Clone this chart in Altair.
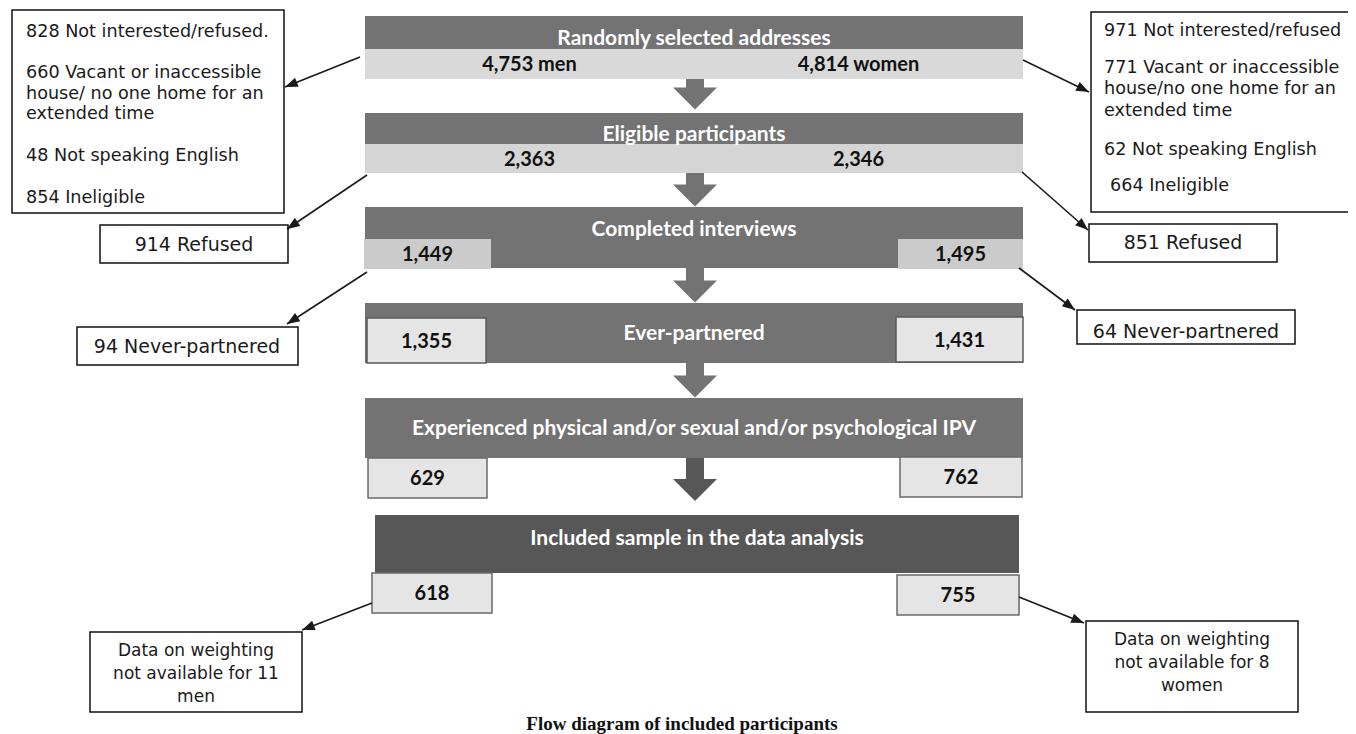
import altair as alt
import pandas as pd

# ---------------- content ----------------
stage_titles = ["Randomly selected addresses", "Eligible participants", "Completed interviews",
                "Ever-partnered", "Experienced physical and/or sexual and/or psychological IPV",
                "Included sample in the data analysis"]
men_counts = ["4,753 men", "2,363", "1,449", "1,355", "629", "618"]
women_counts = ["4,814 women", "2,346", "1,495", "1,431", "762", "755"]

men_excluded_address = ["828 Not interested/refused.", "660 Vacant or inaccessible",
                        "house/ no one home for an", "extended time",
                        "48 Not speaking English", "854 Ineligible"]
women_excluded_address = ["971 Not interested/refused", "771 Vacant or inaccessible",
                          "house/no one home for an", "extended time",
                          "62 Not speaking English", "664 Ineligible"]
side_labels = ["914 Refused", "851 Refused", "94 Never-partnered", "64 Never-partnered"]
men_weighting = ["Data on weighting", "not available for 11", "men"]
women_weighting = ["Data on weighting", "not available for 8", "women"]
caption = "Flow diagram of included participants"

# ---------------- layout (pixel grid of the picture) ----------------
W, H = 1340, 726
xs = alt.Scale(domain=[8, 8 + W], nice=False, zero=False)
ys = alt.Scale(domain=[8, 8 + H], nice=False, zero=False, reverse=True)

stage_box = [(365, 1023, 16, 49), (365, 1023, 113, 144), (365, 1023, 207, 268),
             (365, 1023, 303, 363), (365, 1023, 398, 458), (375, 1019, 515, 573)]
stage_fill = ["#737373"] * 5 + ["#575757"]
title_y = [39, 135, 230, 334, 429, 539]

men_box = [(365, 694, 49, 79), (365, 694, 144, 173), (364, 491, 239, 269),
           (367, 486, 318, 363), (368, 487, 458, 498), (372, 492, 573, 613)]
women_box = [(694, 1023, 49, 79), (694, 1023, 144, 173), (898, 1023, 239, 269),
             (896, 1023, 317, 362), (900, 1022, 457, 497), (897, 1019, 575, 615)]
count_fill = ["#d9d9d9", "#d5d5d5", "#cbcbcb", "#e5e5e5", "#e5e5e5", "#e5e5e5"]
count_stroke = ["#d9d9d9", "#d5d5d5", "#cbcbcb", "#5a5a5a", "#6a6a6a", "#6a6a6a"]
count_sw = [0, 0, 0, 1.5, 1.5, 1.5]

shaft_y = [(79, 89), (173, 185), (268, 282), (363, 377), (458, 480)]
head_y = [98.5, 195.5, 291.5, 386.5, 490]
arrow_fill = ["#737373"] * 4 + ["#575757"]

side_box = [(12, 284, 10, 213), (1091, 1353, 12, 212), (100, 288, 225, 263), (1089, 1277, 224, 262),
            (77, 298, 327, 365), (1077, 1295, 310, 344), (90, 302, 632, 712), (1086, 1298, 621, 712)]

left_lines_y = [32, 73, 94, 114, 156, 198]
right_lines_y = [31, 68, 89, 111, 150, 186]
right_lines_x = [1104, 1104, 1104, 1104, 1104, 1110]
side_label_xy = [(194, 245), (1183, 243), (187, 347), (1186, 332)]
weight_left_y = [651, 674, 697]
weight_right_y = [640, 663, 686]

links = [(360, 57, 285, 87), (367, 175, 287, 229), (367, 272, 287, 324),
         (1023, 60, 1089, 92), (1022, 172, 1088, 230), (1019, 268, 1075, 310),
         (372, 603, 302, 630), (1019, 597, 1084, 623)]

# ---------------- tables ----------------
boxes = pd.DataFrame(
    [dict(x1=b[0], x2=b[1], y1=b[2], y2=b[3], fill=f, stroke=f, sw=0) for b, f in zip(stage_box, stage_fill)]
    + [dict(x1=b[0], x2=b[1], y1=b[2], y2=b[3], fill=f, stroke=s, sw=w)
       for b, f, s, w in zip(men_box, count_fill, count_stroke, count_sw)]
    + [dict(x1=b[0], x2=b[1], y1=b[2], y2=b[3], fill=f, stroke=s, sw=w)
       for b, f, s, w in zip(women_box, count_fill, count_stroke, count_sw)]
    + [dict(x1=686, x2=704, y1=s[0], y2=s[1], fill=c, stroke=c, sw=0) for s, c in zip(shaft_y, arrow_fill)]
)

heads = pd.DataFrame(dict(x=[695] * 5, y=head_y, fill=arrow_fill))

frames = pd.DataFrame([dict(x1=b[0], x2=b[1], y1=b[2], y2=b[3]) for b in side_box])
clip = pd.DataFrame([dict(x1=1079, x2=1293, y1=338.6, y2=343.0)])

titles = pd.DataFrame(dict(x=[694] * 5 + [697], y=title_y, text=stage_titles))
counts = pd.DataFrame(
    [dict(x=(b[0] + b[1]) / 2, y=(b[2] + b[3]) / 2 + 1, text=t) for b, t in zip(men_box, men_counts)]
    + [dict(x=(b[0] + b[1]) / 2, y=(b[2] + b[3]) / 2 + 1, text=t) for b, t in zip(women_box, women_counts)]
)
left_text = pd.DataFrame(
    [dict(x=26, y=y, text=t) for y, t in zip(left_lines_y, men_excluded_address)]
    + [dict(x=x, y=y, text=t) for x, y, t in zip(right_lines_x, right_lines_y, women_excluded_address)]
)
center_text = pd.DataFrame(
    [dict(x=p[0], y=p[1], text=t, fs=19) for p, t in zip(side_label_xy, side_labels)]
    + [dict(x=196, y=y, text=t, fs=17) for y, t in zip(weight_left_y, men_weighting)]
    + [dict(x=1192, y=y, text=t, fs=17) for y, t in zip(weight_right_y, women_weighting)]
)
link_df = pd.DataFrame([dict(x1=a, y1=b, x2=c, y2=d) for a, b, c, d in links])
cap_df = pd.DataFrame(dict(x=[682], y=[724], text=[caption]))


def X(f):
    return alt.X(f, scale=xs, axis=None)


def Y(f):
    return alt.Y(f, scale=ys, axis=None)


frame_layer = alt.Chart(frames).mark_rect(fill="white", stroke="#111111", strokeWidth=1.5).encode(
    x=X("x1:Q"), x2="x2:Q", y=Y("y1:Q"), y2="y2:Q")

box_layer = alt.Chart(boxes).mark_rect().encode(
    x=X("x1:Q"), x2="x2:Q", y=Y("y1:Q"), y2="y2:Q",
    fill=alt.Fill("fill:N", scale=None), stroke=alt.Stroke("stroke:N", scale=None),
    strokeWidth=alt.StrokeWidth("sw:Q", scale=None))

head_layer = alt.Chart(heads).mark_point(
    shape="M-1,-0.5L1,-0.5L0,0.5Z", filled=True, size=1936, opacity=1, strokeWidth=0).encode(
    x=X("x:Q"), y=Y("y:Q"), fill=alt.Fill("fill:N", scale=None))

rule_layer = alt.Chart(link_df).mark_rule(color="#1a1a1a", strokeWidth=1.6).encode(
    x=X("x1:Q"), y=Y("y1:Q"), x2="x2:Q", y2="y2:Q")

tip_layer = alt.Chart(link_df).transform_calculate(
    ang="(atan2(datum.x2 - datum.x1, datum.y1 - datum.y2) * 180 / PI + 360) % 360"
).mark_point(shape="M0,0L-0.65,1.7L0.65,1.7Z", filled=True, size=225, opacity=1,
             strokeWidth=0, color="#1a1a1a").encode(
    x=X("x2:Q"), y=Y("y2:Q"), angle=alt.Angle("ang:Q", scale=None))

title_layer = alt.Chart(titles).mark_text(
    font="Lato", fontWeight="bold", fontSize=21, color="white", baseline="middle", align="center").encode(
    x=X("x:Q"), y=Y("y:Q"), text="text:N")

count_layer = alt.Chart(counts).mark_text(
    font="Lato", fontWeight="bold", fontSize=20, color="#111111", baseline="middle", align="center").encode(
    x=X("x:Q"), y=Y("y:Q"), text="text:N")

left_layer = alt.Chart(left_text).mark_text(
    font="DejaVu Sans", fontSize=17.6, color="#1a1a1a", baseline="middle", align="left").encode(
    x=X("x:Q"), y=Y("y:Q"), text="text:N")

center_layer = alt.Chart(center_text).mark_text(
    font="DejaVu Sans", color="#1a1a1a", baseline="middle", align="center").encode(
    x=X("x:Q"), y=Y("y:Q"), text="text:N", size=alt.Size("fs:Q", scale=None))

clip_layer = alt.Chart(clip).mark_rect(fill="white").encode(
    x=X("x1:Q"), x2="x2:Q", y=Y("y1:Q"), y2="y2:Q")

cap_layer = alt.Chart(cap_df).mark_text(
    font="Liberation Serif", fontWeight="bold", fontSize=19, color="#111111",
    baseline="middle", align="center").encode(
    x=X("x:Q"), y=Y("y:Q"), text="text:N")

chart = alt.layer(
    frame_layer, box_layer, head_layer, rule_layer, tip_layer,
    title_layer, count_layer, left_layer, center_layer, clip_layer, cap_layer
).properties(
    width=W, height=H, padding=0, autosize=alt.AutoSizeParams(type="none"), background="white"
).configure_view(stroke=None)

chart.save("out.html", embed_options={"renderer": "svg", "actions": False})
